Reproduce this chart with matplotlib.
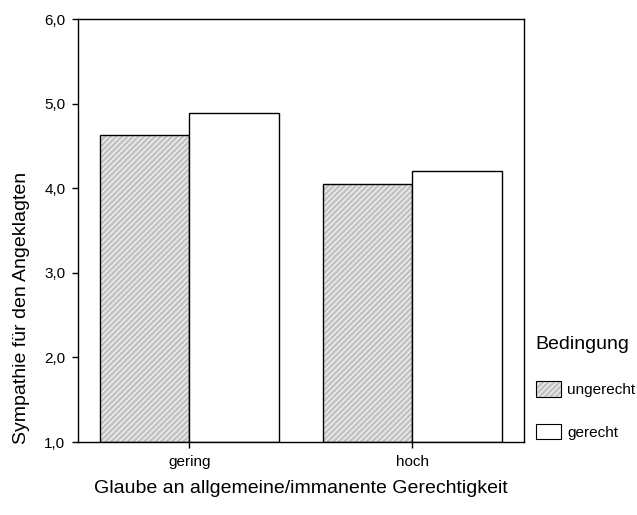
import numpy as np
import matplotlib.pyplot as plt
from matplotlib.patches import Patch
from matplotlib.legend_handler import HandlerTuple

plt.rcParams['font.family'] = ['Liberation Sans', 'DejaVu Sans']
plt.rcParams['hatch.linewidth'] = 0.7

categories = ['gering', 'hoch']
ungerecht = [4.63, 4.05]
gerecht = [4.89, 4.20]
yticks = [1.0, 2.0, 3.0, 4.0, 5.0, 6.0]

fig = plt.figure(figsize=(6.37, 5.15), dpi=100)
ax = fig.add_axes([0.1224, 0.1417, 0.7002, 0.8213])

x = np.arange(len(categories))
w = 0.4
base = 1.0
grey = '#c4c4c4'
# hatched grey bars: grey fill with fine white diagonal lines, then black outline
ax.bar(x - w / 2, np.array(ungerecht) - base, w, bottom=base, color=grey,
       edgecolor='white', hatch='//////', linewidth=0)
ax.bar(x - w / 2, np.array(ungerecht) - base, w, bottom=base, fill=False,
       edgecolor='black', linewidth=1.0)
ax.bar(x + w / 2, np.array(gerecht) - base, w, bottom=base, color='white',
       edgecolor='black', linewidth=1.0)

ax.set_xlim(-0.5, 1.5)
ax.set_ylim(1.0, 6.0)
ax.set_xticks(x)
ax.set_xticklabels(categories, fontsize=11)
ax.set_yticks(yticks)
ax.set_yticklabels([f'{v:.1f}'.replace('.', ',') for v in yticks], fontsize=11)
ax.tick_params(axis='both', direction='out', length=4, width=1)
ax.tick_params(axis='x', pad=5)
ax.tick_params(axis='y', pad=5)
for s in ax.spines.values():
    s.set_linewidth(1.0)

# SPSS puts the y label below the middle of the axis
ax.set_ylabel('Sympathie für den Angeklagten', fontsize=14)
ax.yaxis.set_label_coords(-0.107, 0.317)
ax.set_xlabel('Glaube an allgemeine/immanente Gerechtigkeit', fontsize=14, labelpad=8.5)

h_ung = (Patch(facecolor=grey, edgecolor='white', hatch='//////', linewidth=0),
         Patch(fill=False, edgecolor='black', linewidth=0.8))
h_ger = Patch(facecolor='white', edgecolor='black', linewidth=0.8)
leg = fig.legend([h_ung, h_ger], ['ungerecht', 'gerecht'], title='Bedingung',
                 handler_map={tuple: HandlerTuple(ndivide=1, pad=0)},
                 loc='upper left', bbox_to_anchor=(0.841, 0.347), frameon=False,
                 fontsize=11, title_fontsize=14, handlelength=1.65, handleheight=1.2,
                 handletextpad=0.4, labelspacing=1.75, borderpad=0, borderaxespad=0)
leg._legend_box.align = 'left'
leg._legend_box.sep = 20

fig.savefig('out.png', dpi=100)
